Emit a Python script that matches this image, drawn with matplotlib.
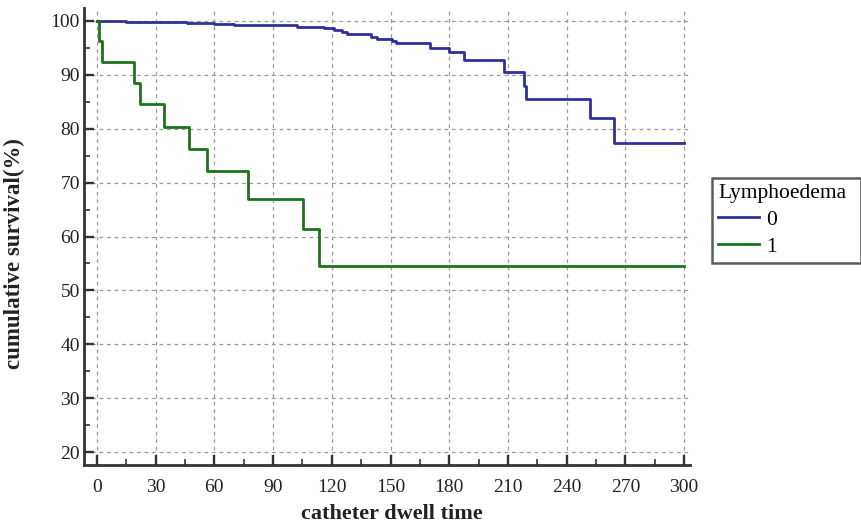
import numpy as np
import matplotlib
matplotlib.use("Agg")
import matplotlib.pyplot as plt
from matplotlib.ticker import MultipleLocator

plt.rcParams["font.family"] = ["Liberation Serif", "DejaVu Serif"]

# Kaplan-Meier steps (time, survival %)
t_grp0 = [0, 15, 46, 60, 70, 102, 116, 121, 125, 128, 140, 143, 150.6, 153,
          170, 180, 187.6, 208, 218.2, 219.2, 252, 264.4, 300]
s_grp0 = [100, 99.8, 99.6, 99.4, 99.2, 98.9, 98.6, 98.3, 98.0, 97.6, 97.1, 96.7,
          96.3, 95.9, 95.0, 94.2, 92.7, 90.5, 88.0, 85.5, 82.0, 77.4, 77.4]

t_grp1 = [0, 1.2, 2.4, 18.9, 22, 34.2, 46.8, 56, 77.3, 105.4, 113.6, 300]
s_grp1 = [100, 96.2, 92.3, 88.5, 84.6, 80.4, 76.2, 72.1, 67.0, 61.3, 54.5, 54.5]

groups = ["0", "1"]
colors = ["#30309c", "#1c741c"]

fig = plt.figure(figsize=(8.62, 5.25), dpi=100)
ax = fig.add_axes([84 / 862, 1 - 465 / 525, 606 / 862, 457 / 525])

ax.step(t_grp0, s_grp0, where="post", color=colors[0], lw=2.0, label=groups[0], zorder=3)
ax.step(t_grp1, s_grp1, where="post", color=colors[1], lw=2.0, label=groups[1], zorder=3)

ax.set_xlim(-6.6, 303)
ax.set_ylim(17.6, 102.4)
ax.xaxis.set_major_locator(MultipleLocator(30))
ax.xaxis.set_minor_locator(MultipleLocator(15))
ax.yaxis.set_major_locator(MultipleLocator(10))
ax.yaxis.set_minor_locator(MultipleLocator(5))

ax.grid(True, which="major", color="#9a9a9a", ls=(0, (3, 3)), lw=0.9, zorder=1)

for side in ["top", "right"]:
    ax.spines[side].set_visible(False)
for side in ["left", "bottom"]:
    ax.spines[side].set_color("#333333")
    ax.spines[side].set_linewidth(2.0)

ax.tick_params(which="major", direction="in", length=7, width=1.7, colors="#333333",
               labelsize=14, labelcolor="#222222")
ax.tick_params(which="minor", direction="in", length=4, width=1.2, colors="#333333")
ax.tick_params(axis="x", pad=10)
ax.tick_params(axis="y", pad=3)

ax.set_xlabel("catheter dwell time", fontsize=16, fontweight="bold", color="#222222")
ax.set_ylabel("cumulative survival(%)", fontsize=16.5, fontweight="bold", color="#222222")
ax.xaxis.set_label_coords((392 - 84) / 606, -(504 - 465) / 457)
ax.yaxis.set_label_coords(-(84 - 25) / 606, (465 - 254) / 457)

leg = fig.legend(loc="upper left",
                 bbox_to_anchor=(712 / 862, 1 - 266 / 525, 149 / 862, 88 / 525),
                 mode="expand", title="Lymphoedema", alignment="left",
                 fontsize=15.5, title_fontsize=15.5,
                 frameon=True, fancybox=False, edgecolor="#333333", handlelength=1.9,
                 borderpad=0.3, labelspacing=0.3, handletextpad=0.3, borderaxespad=0)
leg.get_frame().set_linewidth(1.8)

fig.savefig("out.png", dpi=100)
